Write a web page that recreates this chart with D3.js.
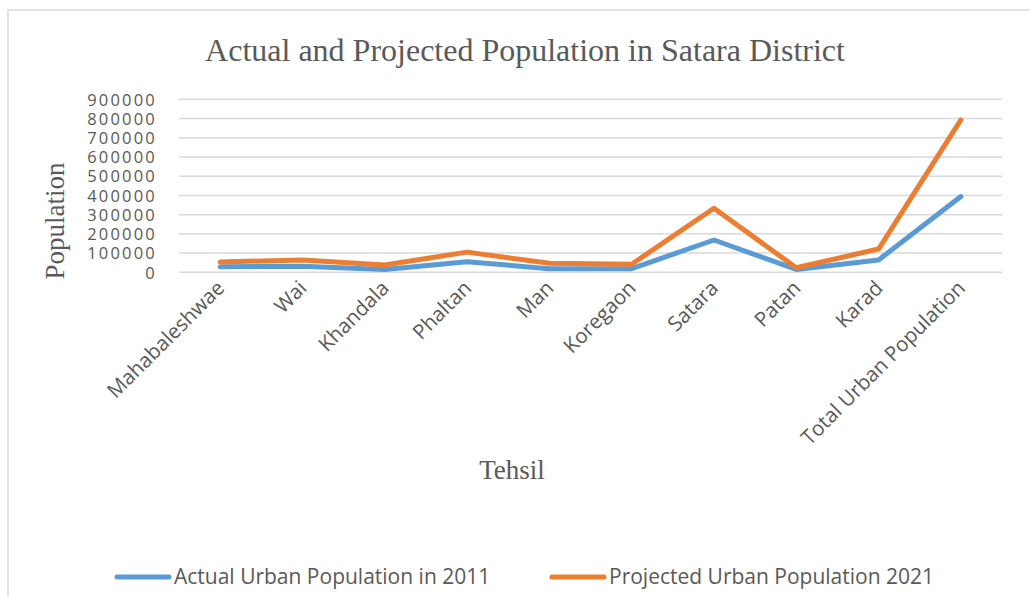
<!DOCTYPE html>
<meta charset="utf-8">
<title>Actual and Projected Population in Satara District</title>
<style>

body {
  margin: 0;
  background: #fff;
}

text {
  fill: #595959;
}

.serif {
  font-family: "Liberation Serif", "DejaVu Serif", serif;
}

.sans {
  font-family: "Open Sans", "Liberation Sans", sans-serif;
}

</style>
<body>
<script src="https://cdn.jsdelivr.net/npm/d3@7/dist/d3.min.js"></script>
<script>
var tehsils = ["Mahabaleshwae", "Wai", "Khandala", "Phaltan", "Man", "Koregaon",
               "Satara", "Patan", "Karad", "Total Urban Population"];

var actual2011 = [29000, 32000, 15000, 55000, 19000, 19000, 168000, 15000, 64000, 394000];
var projected2021 = [54000, 64000, 38000, 105000, 47000, 42000, 333000, 24000, 121000, 793000];

var yTicks = [0, 100000, 200000, 300000, 400000, 500000, 600000, 700000, 800000, 900000];

var seriesNames = ["Actual Urban Population in 2011", "Projected Urban Population 2021"];
var colors = ["#5b9bd5", "#ed7d31"];

var w = 1030,
    h = 597,
    plotLeft = 179,
    plotRight = 1002,
    plotTop = 99.3,
    plotBottom = 272.3;

var svg = d3.select("body").append("svg")
    .attr("width", w)
    .attr("height", h);

// chart border
svg.append("rect")
    .attr("x", 8)
    .attr("y", 10)
    .attr("width", w + 20)
    .attr("height", h + 20)
    .attr("fill", "none")
    .attr("stroke", "#d9d9d9")
    .attr("stroke-width", 1.5);

var x = d3.scalePoint()
    .domain(tehsils)
    .range([plotLeft, plotRight])
    .padding(0.5);

var y = d3.scaleLinear()
    .domain([0, 900000])
    .range([plotBottom, plotTop]);

// gridlines
svg.append("g")
  .selectAll("line")
    .data(yTicks)
  .enter().append("line")
    .attr("x1", plotLeft)
    .attr("x2", plotRight)
    .attr("y1", function(d) { return y(d); })
    .attr("y2", function(d) { return y(d); })
    .attr("stroke", "#d9d9d9")
    .attr("stroke-width", 1.5);

// y tick labels
var yAxis = svg.append("g")
    .attr("transform", "translate(" + (plotLeft - 22) + ",0)")
    .call(d3.axisLeft(y).tickValues(yTicks).tickSize(0).tickPadding(0).tickFormat(d3.format("d")));
yAxis.select(".domain").remove();
yAxis.selectAll("text")
    .attr("class", "sans")
    .style("font-size", "16.5px")
    .style("letter-spacing", "2.2px")
    .attr("fill", "#595959")
    .attr("dy", "0.35em");

// x tick labels
var xAxis = svg.append("g")
    .attr("transform", "translate(0," + (plotBottom + 12) + ")")
    .call(d3.axisBottom(x).tickSize(0).tickPadding(0));
xAxis.select(".domain").remove();
xAxis.selectAll("text")
    .attr("class", "sans")
    .style("font-size", "20.5px")
    .attr("fill", "#595959")
    .attr("text-anchor", "end")
    .attr("dy", "0.35em")
    .attr("transform", "rotate(-45)");

// lines
var line = d3.line()
    .x(function(d, i) { return x(tehsils[i]); })
    .y(function(d) { return y(d); });

[actual2011, projected2021].forEach(function(s, i) {
  svg.append("path")
      .datum(s)
      .attr("d", line)
      .attr("fill", "none")
      .attr("stroke", colors[i])
      .attr("stroke-width", 5)
      .attr("stroke-linejoin", "round")
      .attr("stroke-linecap", "round");
});

// titles
svg.append("text")
    .attr("class", "serif")
    .attr("x", 525)
    .attr("y", 61)
    .attr("text-anchor", "middle")
    .style("font-size", "32px")
    .text("Actual and Projected Population in Satara District");

svg.append("text")
    .attr("class", "serif")
    .attr("transform", "translate(64,221)rotate(-90)")
    .attr("text-anchor", "middle")
    .style("font-size", "27px")
    .text("Population");

svg.append("text")
    .attr("class", "serif")
    .attr("x", 512)
    .attr("y", 479)
    .attr("text-anchor", "middle")
    .style("font-size", "27px")
    .text("Tehsil");

// legend
var legendX = [117, 552];
seriesNames.forEach(function(name, i) {
  var g = svg.append("g").attr("transform", "translate(" + legendX[i] + ",577)");
  g.append("line")
      .attr("x1", 0)
      .attr("x2", 52)
      .attr("stroke", colors[i])
      .attr("stroke-width", 5)
      .attr("stroke-linecap", "round");
  g.append("text")
      .attr("class", "sans")
      .attr("x", 57)
      .attr("dy", "0.35em")
      .style("font-size", "21px")
      .text(name);
});
</script>
